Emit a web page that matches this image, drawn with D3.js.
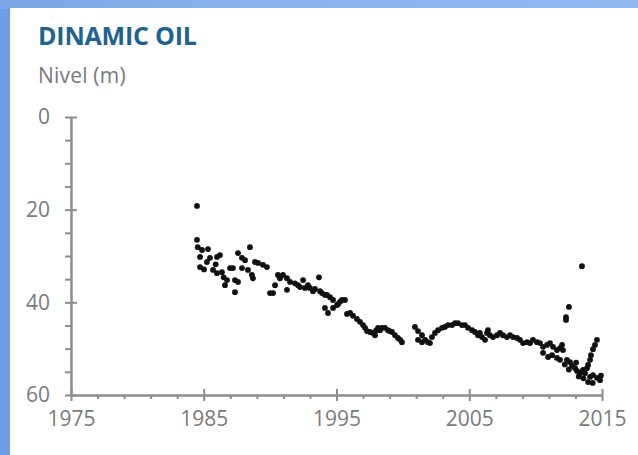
<!DOCTYPE html>
<html>
<head>
<meta charset="utf-8">
<script src="https://cdn.jsdelivr.net/npm/d3@7"></script>
<style>
  html, body { margin: 0; padding: 0; background: #fff; }
  #chart { width: 638px; height: 455px; overflow: hidden; }
  text { font-family: "Open Sans", "DejaVu Sans", sans-serif; }
</style>
</head>
<body>
<div id="chart"></div>
<script>
// ---- data ----
const years = [
  1984.49,1984.49,1984.55,1984.87,1985.32,1984.72,1985.47,1986.00,1986.22,1984.72,
  1985.02,1985.24,1985.70,1986.00,1986.37,1986.98,1987.20,1986.75,1986.60,1987.35,
  1987.58,1987.35,1987.58,1987.88,1988.11,1988.48,1987.88,1988.33,1988.63,1988.71,
  1988.86,1989.09,1989.46,1989.76,1989.99,1990.22,1990.37,1990.59,1990.74,1990.97,
  1991.27,1991.50,1991.27,1991.87,1992.10,1992.25,1992.48,1992.63,1992.85,1993.00,
  1993.23,1993.38,1993.68,1993.76,1993.91,1994.13,1994.28,1994.51,1994.74,1994.13,
  1994.36,1995.04,1994.74,1995.11,1995.26,1995.41,1995.64,1995.79,1996.02,1996.24,
  1996.54,1996.77,1997.00,1997.15,1997.30,1997.52,1997.75,1997.90,1998.00,1998.13,
  1998.28,1998.43,1998.65,1998.88,1999.00,1999.18,1999.41,1999.63,1999.80,1999.93,
  2000.91,2001.14,2001.44,2001.14,2001.44,2001.67,2001.89,2002.04,2002.19,2002.42,
  2002.65,2002.95,2003.17,2003.40,2003.70,2003.93,2004.15,2004.45,2004.68,2004.91,
  2005.21,2005.43,2005.66,2005.96,2006.19,2005.80,2006.34,2006.41,2006.56,2006.79,
  2007.09,2007.32,2007.54,2007.84,2008.07,2008.30,2008.60,2008.82,2009.05,2009.35,
  2009.58,2009.80,2010.10,2010.33,2010.56,2010.86,2011.08,2011.31,2011.61,2011.84,
  2010.56,2010.94,2011.24,2011.61,2011.84,2011.99,2012.06,2012.29,2012.29,2012.51,
  2013.49,2012.36,2012.59,2012.74,2012.97,2013.12,2013.34,2013.57,2013.72,2013.87,
  2013.95,2014.10,2014.32,2014.62,2014.85,2013.95,2014.10,2014.17,2014.32,2014.47,
  2014.62,2012.20,2012.50,2013.05,2013.25,2013.60,2014.30,2014.92,1985.90,1986.50
];
const levels = [
  19.2,26.5,28.1,28.7,28.5,30.2,30.4,30.2,29.8,32.4,
  32.9,31.3,33.0,33.7,33.5,32.6,32.6,35.2,36.3,35.2,
  35.6,37.8,29.4,30.4,30.9,28.1,32.6,33.0,34.1,34.8,
  31.3,31.5,31.9,32.4,38.0,38.0,36.3,34.1,34.8,34.1,
  34.8,35.6,37.3,35.9,36.3,36.7,35.2,36.9,36.3,36.9,
  37.6,37.1,34.6,37.6,38.0,38.4,38.4,38.9,39.5,41.2,
  42.3,40.6,41.2,40.4,39.9,39.5,39.5,42.5,42.3,42.9,
  43.6,44.2,44.9,45.5,46.2,46.4,46.6,47.1,46.0,45.5,
  46.0,45.5,45.5,46.0,46.2,46.4,47.1,47.7,48.1,48.6,
  45.3,46.2,47.1,48.1,48.6,48.1,48.6,48.8,47.5,46.6,
  46.0,45.5,45.3,44.9,44.9,44.5,44.5,44.9,44.9,45.5,
  46.0,46.4,47.1,47.5,48.1,46.6,46.6,46.0,47.1,47.5,
  47.1,46.6,47.1,47.5,47.1,47.5,47.7,48.1,48.8,48.6,
  48.8,48.1,48.6,48.8,49.6,49.2,48.8,49.6,50.3,49.9,
  50.9,51.8,51.4,52.0,52.4,49.2,50.3,43.2,43.8,41.0,
  32.2,52.4,52.9,53.7,54.2,54.8,55.3,54.6,55.3,54.2,
  57.2,56.1,55.7,56.3,56.8,53.5,52.4,51.4,50.1,49.2,
  48.1,53.4,54.5,53.0,56.0,56.4,57.4,55.8,31.8,34.6
];
const xMajor = [1975, 1985, 1995, 2005, 2015];
const xMinor = [1977, 1979, 1981, 1983, 1987, 1989, 1991, 1993, 1997, 1999, 2001, 2003, 2007, 2009, 2011, 2013];
const yMajor = [0, 20, 40, 60];
const yMinor = [5, 10, 15, 25, 30, 35, 45, 50, 55];
const title = "DINAMIC OIL";
const yTitle = "Nivel (m)";

// ---- drawing ----
const W = 638, H = 455;
const svg = d3.select("#chart").append("svg").attr("width", W).attr("height", H);

const defs = svg.append("defs");
const g1 = defs.append("linearGradient").attr("id", "topband").attr("x1", 0).attr("x2", 1);
g1.append("stop").attr("offset", "0").attr("stop-color", "#7aa6e6");
g1.append("stop").attr("offset", "0.35").attr("stop-color", "#86b1ee");
g1.append("stop").attr("offset", "1").attr("stop-color", "#8fbaf2");

svg.append("rect").attr("width", W).attr("height", H).attr("fill", "#6d9de2");
svg.append("rect").attr("width", W).attr("height", 9).attr("fill", "url(#topband)");
svg.append("rect").attr("x", 10).attr("y", 8).attr("width", W - 10).attr("height", H - 8)
  .attr("fill", "#ffffff");

const x = d3.scaleLinear().domain([1975, 2015]).range([71, 602]);
const y = d3.scaleLinear().domain([0, 60]).range([117, 395]);

const axisColor = "#8c8c8c", labelColor = "#7a7a7a";

svg.append("text").attr("x", 38).attr("y", 45).text(title)
  .attr("font-size", 25).attr("font-weight", 700).attr("fill", "#1e6294")
  .attr("letter-spacing", "-0.2");
svg.append("text").attr("x", 38).attr("y", 83).text(yTitle)
  .attr("font-size", 21).attr("fill", labelColor).attr("letter-spacing", "0.2");

function styleAxis(g) {
  g.selectAll("path.domain").attr("stroke", axisColor).attr("stroke-width", 2.5);
  g.selectAll(".tick line").attr("stroke", axisColor).attr("stroke-width", 2);
  g.selectAll("text").attr("fill", labelColor).attr("font-size", 21)
    .attr("font-family", "'Open Sans', sans-serif");
}

// minor ticks
svg.append("g").attr("transform", "translate(71,0)")
  .call(d3.axisLeft(y).tickValues(yMinor).tickSize(6).tickFormat(""))
  .call(g => g.select(".domain").remove())
  .call(styleAxis);
svg.append("g").attr("transform", "translate(0,395)")
  .call(d3.axisBottom(x).tickValues(xMinor).tickSize(4).tickFormat(""))
  .call(g => g.select(".domain").remove())
  .call(styleAxis);

// major ticks on the inner side
svg.append("g").attr("transform", "translate(71,0)")
  .call(d3.axisRight(y).tickValues(yMajor).tickSize(6).tickFormat(""))
  .call(g => g.select(".domain").remove())
  .call(styleAxis);
svg.append("g").attr("transform", "translate(0,395)")
  .call(d3.axisTop(x).tickValues(xMajor).tickSize(6).tickFormat(""))
  .call(g => g.select(".domain").remove())
  .call(styleAxis);

// main axes
svg.append("g").attr("transform", "translate(71,0)")
  .call(d3.axisLeft(y).tickValues(yMajor).tickSize(6).tickSizeOuter(0).tickPadding(15).tickFormat(d3.format("d")))
  .call(styleAxis);
svg.append("g").attr("transform", "translate(0,395)")
  .call(d3.axisBottom(x).tickValues(xMajor).tickSize(6).tickSizeOuter(0).tickPadding(10).tickFormat(d3.format("d")))
  .call(styleAxis);

// points
svg.append("g").selectAll("circle")
  .data(d3.range(years.length))
  .join("circle")
  .attr("cx", i => x(years[i]))
  .attr("cy", i => y(levels[i]))
  .attr("r", 2.9)
  .attr("fill", "#111");
</script>
</body>
</html>
